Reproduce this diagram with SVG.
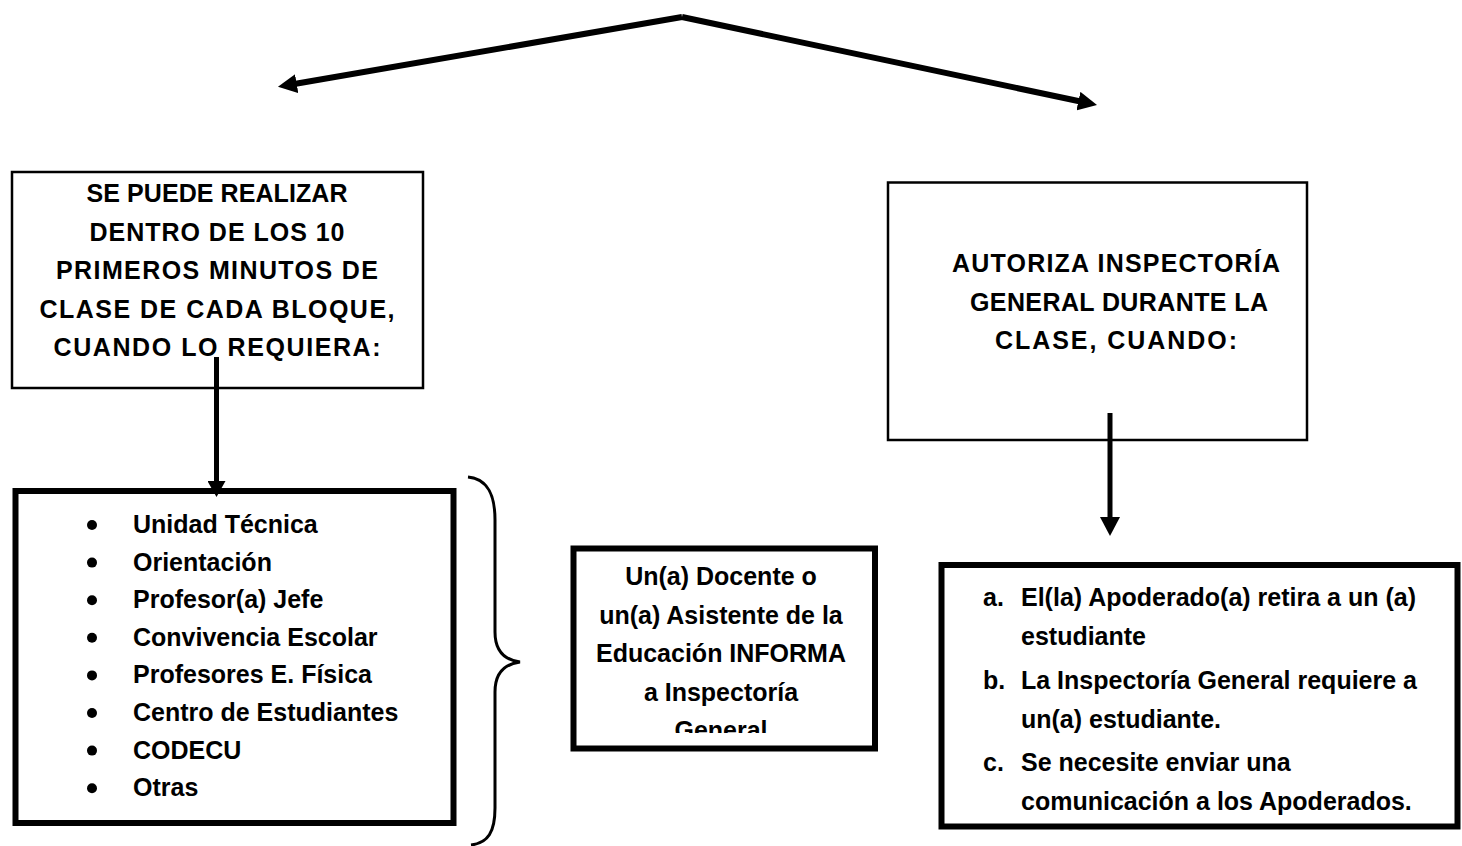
<svg xmlns="http://www.w3.org/2000/svg" width="1462" height="846" viewBox="0 0 1462 846">
  <style>
    .t { font-family: "Liberation Sans", Arial, sans-serif; font-weight: bold; font-size: 25px; fill: #000; }
    .c { text-anchor: middle; }
    .thin { fill: #fff; stroke: #000; stroke-width: 2.5; }
    .thick { fill: #fff; stroke: #000; stroke-width: 6; }
    .conn { fill: none; stroke: #000; stroke-width: 5; }
    .conn-top { fill: none; stroke: #000; stroke-width: 6; }
  </style>
  <defs>
    <marker id="ahTop" markerUnits="userSpaceOnUse" viewBox="0 0 19 19" markerWidth="19" markerHeight="19" refX="1" refY="9.5" orient="auto">
      <path d="M0,0 L19,9.5 L0,19 Z" fill="#000"/>
    </marker>
    <marker id="ahL" markerUnits="userSpaceOnUse" viewBox="0 0 16 18" markerWidth="16" markerHeight="18" refX="1" refY="9" orient="auto">
      <path d="M0,0 L16,9 L0,18 Z" fill="#000"/>
    </marker>
    <marker id="ahR" markerUnits="userSpaceOnUse" viewBox="0 0 19 20" markerWidth="19" markerHeight="20" refX="1" refY="10" orient="auto">
      <path d="M0,0 L19,10 L0,20 Z" fill="#000"/>
    </marker>
    <clipPath id="midClip">
      <rect x="577" y="551" width="295" height="182"/>
    </clipPath>
  </defs>
  <rect x="0" y="0" width="1462" height="846" fill="#fff"/>

  <g id="node-left-title">
    <rect class="thin" x="12" y="172" width="411" height="216"/>
    <text class="t c" x="217" y="202" textLength="261" lengthAdjust="spacing">SE PUEDE REALIZAR</text>
    <text class="t c" x="217" y="240.5" textLength="255" lengthAdjust="spacing">DENTRO DE LOS 10</text>
    <text class="t c" x="217" y="279" textLength="322" lengthAdjust="spacing">PRIMEROS MINUTOS DE</text>
    <text class="t c" x="217" y="317.5" textLength="355" lengthAdjust="spacing">CLASE DE CADA BLOQUE,</text>
    <text class="t c" x="217" y="356" textLength="327" lengthAdjust="spacing">CUANDO LO REQUIERA:</text>
  </g>

  <g id="node-left-list">
    <rect class="thick" x="15.5" y="491" width="438" height="332"/>
    <g fill="#000">
      <circle cx="92" cy="525" r="5"/>
      <circle cx="92" cy="562.6" r="5"/>
      <circle cx="92" cy="600.2" r="5"/>
      <circle cx="92" cy="637.8" r="5"/>
      <circle cx="92" cy="675.4" r="5"/>
      <circle cx="92" cy="713" r="5"/>
      <circle cx="92" cy="750.6" r="5"/>
      <circle cx="92" cy="788.2" r="5"/>
    </g>
    <text class="t" x="133" y="533">Unidad Técnica</text>
    <text class="t" x="133" y="570.6">Orientación</text>
    <text class="t" x="133" y="608.2">Profesor(a) Jefe</text>
    <text class="t" x="133" y="645.8">Convivencia Escolar</text>
    <text class="t" x="133" y="683.4">Profesores E. Física</text>
    <text class="t" x="133" y="721">Centro de Estudiantes</text>
    <text class="t" x="133" y="758.6">CODECU</text>
    <text class="t" x="133" y="796.2">Otras</text>
  </g>

  <g id="node-brace">
    <path d="M468,477 C488,479 495,495 495,520 L495,632 C495,652 505,660 520,662 C505,664 495,672 495,692 L495,808 C495,832 488,843 471,845" fill="none" stroke="#000" stroke-width="3"/>
  </g>

  <g id="node-middle">
    <rect class="thick" x="573.5" y="548.5" width="301.5" height="200"/>
    <g clip-path="url(#midClip)">
      <text class="t c" x="721" y="585">Un(a) Docente o</text>
      <text class="t c" x="721" y="623.5">un(a) Asistente de la</text>
      <text class="t c" x="721" y="662">Educación INFORMA</text>
      <text class="t c" x="721" y="700.5">a Inspectoría</text>
      <text class="t c" x="721" y="739">General</text>
    </g>
  </g>

  <g id="node-right-title">
    <rect class="thin" x="888" y="182.5" width="419" height="257.5"/>
    <text class="t c" x="1116" y="272" textLength="328" lengthAdjust="spacing">AUTORIZA INSPECTORÍA</text>
    <text class="t c" x="1119" y="310.5" textLength="298" lengthAdjust="spacing">GENERAL DURANTE LA</text>
    <text class="t c" x="1116" y="349" textLength="242" lengthAdjust="spacing">CLASE, CUANDO:</text>
  </g>

  <g id="node-right-list">
    <rect class="thick" x="941.5" y="565" width="516" height="261.5"/>
    <text class="t" x="983" y="606">a.</text>
    <text class="t" x="1021" y="606">El(la) Apoderado(a) retira a un (a)</text>
    <text class="t" x="1021" y="645">estudiante</text>
    <text class="t" x="983" y="689">b.</text>
    <text class="t" x="1021" y="689">La Inspectoría General requiere a</text>
    <text class="t" x="1021" y="728">un(a) estudiante.</text>
    <text class="t" x="983" y="771">c.</text>
    <text class="t" x="1021" y="771">Se necesite enviar una</text>
    <text class="t" x="1021" y="810">comunicación a los Apoderados.</text>
  </g>

  <g id="connectors">
    <path class="conn-top" d="M682,17 L295.7,83.8" marker-end="url(#ahTop)"/>
    <path class="conn-top" d="M682,17 L1079.4,101.3" marker-end="url(#ahTop)"/>
    <path class="conn" d="M216.5,357 L216.5,482" marker-end="url(#ahL)"/>
    <path class="conn" d="M1110,413 L1110,518" marker-end="url(#ahR)"/>
  </g>
</svg>
